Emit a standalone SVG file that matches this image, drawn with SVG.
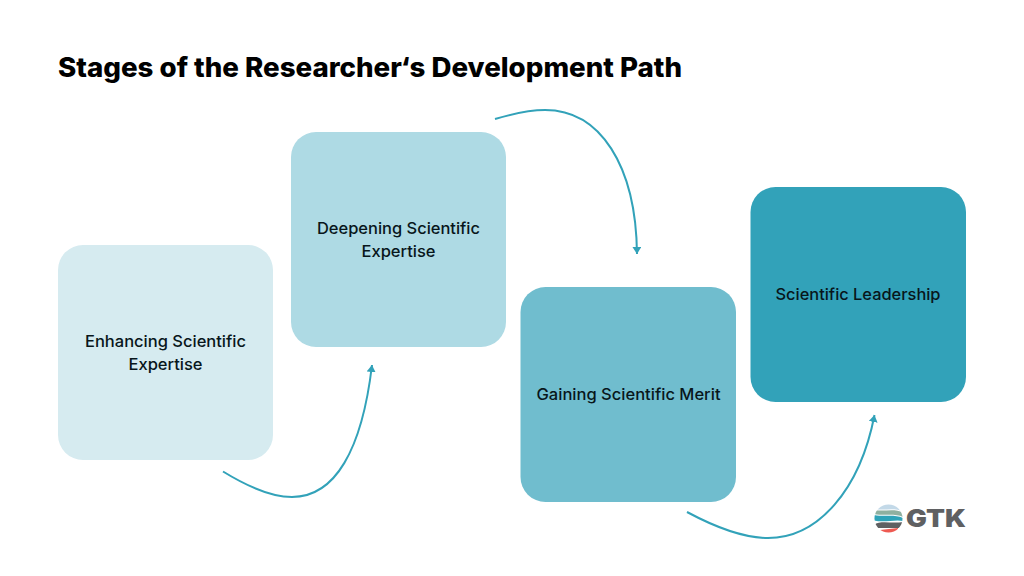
<svg xmlns="http://www.w3.org/2000/svg" width="1024" height="576" viewBox="0 0 1024 576">
<style>
.t{font-family:"Inter","Lato","Open Sans","Liberation Sans",sans-serif;fill:#000;font-variant-ligatures:none}
.title{font-size:27px;font-weight:800}
.l{font-size:16px;font-weight:500;text-anchor:middle;fill:#08161b}
.c{fill:none;stroke:#32a2b9;stroke-width:2}
.logo{font-family:"Inter","Open Sans","Liberation Sans",sans-serif;font-weight:900;font-size:24px;fill:#5f6062}
</style>
<defs><marker id="a" viewBox="0 0 7 9" refX="7" refY="4.500" markerWidth="7" markerHeight="9" markerUnits="userSpaceOnUse" orient="auto"><path d="M0 0L7 4.500L0 9Z" fill="#32a2b9"/></marker></defs>
<rect width="1024" height="576" fill="#fff"/>
<text class="t title" x="58" y="77" textLength="624" lengthAdjust="spacingAndGlyphs">Stages of the Researcher‘s Development Path</text>
<g id="connectors">
<path class="c" marker-end="url(#a)" d="M223 471.500C245 485 270 497 292 497C335 497 362 450 372 365"/>
<path class="c" marker-end="url(#a)" d="M495 119C512 114 528 110 545 110C600 110 636 165 637 254"/>
<path class="c" marker-end="url(#a)" d="M687 512C715 527 745 538 768 538C818 538 860 490 874.500 415"/>
</g>
<g id="node1"><rect x="58" y="245" width="215" height="215" rx="25" fill="#d6ebf0"/>
<text class="t l" x="165.500" y="347" textLength="161" lengthAdjust="spacingAndGlyphs">Enhancing Scientific</text><text class="t l" x="165.500" y="370" textLength="74" lengthAdjust="spacingAndGlyphs">Expertise</text></g>
<g id="node2"><rect x="291" y="132" width="215" height="215" rx="25" fill="#aedae4"/>
<text class="t l" x="398.500" y="234" textLength="163" lengthAdjust="spacingAndGlyphs">Deepening Scientific</text><text class="t l" x="398.500" y="257" textLength="74" lengthAdjust="spacingAndGlyphs">Expertise</text></g>
<g id="node3"><rect x="520.500" y="287" width="215.500" height="215" rx="25" fill="#70bdce"/>
<text class="t l" x="628.500" y="400" textLength="184" lengthAdjust="spacingAndGlyphs">Gaining Scientific Merit</text></g>
<g id="node4"><rect x="750.500" y="187" width="215.500" height="215" rx="25" fill="#32a2b9"/>
<text class="t l" x="858" y="300" textLength="165" lengthAdjust="spacingAndGlyphs">Scientific Leadership</text></g>
<g id="logo">
<clipPath id="g"><circle cx="888.500" cy="518.500" r="14"/></clipPath>
<g clip-path="url(#g)">
<path d="M874 504H903V512C895 507 885 511 874 509Z" fill="#c3d9e8"/>
<path d="M874 510C885 512 895 508 903 513V517C895 513 885 516 874 514Z" fill="#8fb0a0"/>
<path d="M874 515C885 517 895 514 903 518V521C895 519 885 523 874 520.500Z" fill="#2fa3b8"/>
<path d="M874 525C880 520 892 524 903 522V528H874Z" fill="#5f6062"/>
<path d="M880 530C886 529 892 529 898 528V533H880Z" fill="#ee5a52"/>
</g>
<text class="logo" x="906" y="527" textLength="60" lengthAdjust="spacingAndGlyphs">GTK</text>
</g>
</svg>
